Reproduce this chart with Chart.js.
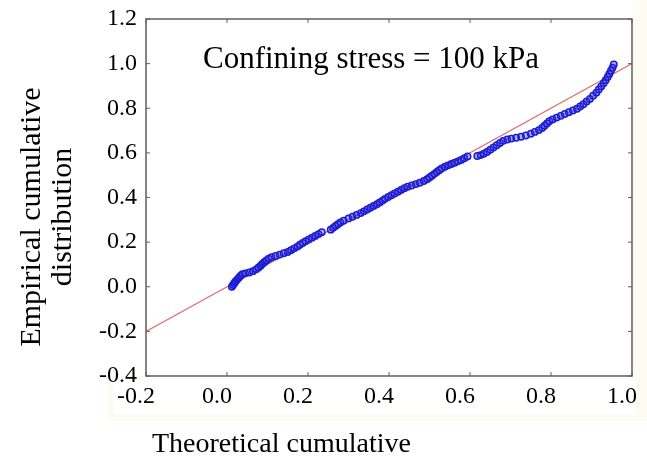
<!DOCTYPE html>
<html>
<head>
<meta charset="utf-8">
<script src="https://cdn.jsdelivr.net/npm/chart.js@4"></script>
<style>
  html, body { margin: 0; padding: 0; background: #ffffff; }
  #wrap { width: 647px; height: 473px; }
</style>
</head>
<body>
<div id="wrap"><canvas id="myChart" width="647" height="473"></canvas></div>
<script>
// theoretical cumulative (x) and empirical cumulative (y)
let theoretical = [
  0.012, 0.015, 0.018, 0.021, 0.025, 0.029, 0.033, 0.038, 0.045, 0.055,
  0.064, 0.072, 0.078, 0.083, 0.087, 0.092, 0.097, 0.103, 0.110, 0.120,
  0.130, 0.140, 0.150, 0.158, 0.166, 0.174, 0.180, 0.187, 0.194, 0.202,
  0.210, 0.218, 0.226, 0.234, 0.256, 0.262, 0.268, 0.274, 0.280, 0.288,
  0.300, 0.310, 0.320, 0.330, 0.338, 0.346, 0.354, 0.362, 0.370, 0.377,
  0.384, 0.390, 0.398, 0.406, 0.414, 0.422, 0.430, 0.438, 0.446, 0.456,
  0.466, 0.476, 0.486, 0.494, 0.500, 0.506, 0.512, 0.518, 0.524, 0.530,
  0.538, 0.546, 0.554, 0.562, 0.570, 0.578, 0.586, 0.594, 0.618, 0.626,
  0.634, 0.642, 0.650, 0.658, 0.666, 0.674, 0.682, 0.692, 0.702, 0.714,
  0.726, 0.738, 0.750, 0.760, 0.770, 0.778, 0.784, 0.790, 0.796, 0.804,
  0.814, 0.824, 0.834, 0.844, 0.854, 0.864, 0.872, 0.880, 0.888, 0.896,
  0.904, 0.912, 0.918, 0.924, 0.930, 0.935, 0.940, 0.944, 0.948, 0.952,
  0.955
];
let empirical = [
  0.000, 0.008, 0.016, 0.024, 0.032, 0.040, 0.048, 0.056, 0.060, 0.064,
  0.070, 0.078, 0.086, 0.094, 0.102, 0.110, 0.118, 0.126, 0.132, 0.138,
  0.144, 0.150, 0.156, 0.164, 0.172, 0.180, 0.188, 0.196, 0.204, 0.212,
  0.220, 0.228, 0.236, 0.244, 0.256, 0.264, 0.272, 0.280, 0.288, 0.296,
  0.306, 0.314, 0.322, 0.330, 0.338, 0.346, 0.354, 0.362, 0.370, 0.378,
  0.386, 0.394, 0.402, 0.410, 0.418, 0.426, 0.434, 0.442, 0.448, 0.454,
  0.460, 0.466, 0.474, 0.482, 0.490, 0.498, 0.506, 0.514, 0.522, 0.530,
  0.538, 0.544, 0.550, 0.556, 0.562, 0.568, 0.576, 0.584, 0.586, 0.590,
  0.596, 0.604, 0.614, 0.624, 0.634, 0.644, 0.654, 0.660, 0.664, 0.668,
  0.672, 0.678, 0.686, 0.694, 0.702, 0.712, 0.722, 0.732, 0.742, 0.750,
  0.758, 0.766, 0.774, 0.782, 0.790, 0.798, 0.808, 0.818, 0.830, 0.842,
  0.856, 0.870, 0.884, 0.898, 0.912, 0.926, 0.940, 0.954, 0.968, 0.982,
  0.996
];
// reference line y = x
let lineX = [-0.2, 1.0];
let lineY = [-0.2, 1.0];

let xTicks = [-0.2, 0.0, 0.2, 0.4, 0.6, 0.8, 1.0];
let yTicks = [-0.4, -0.2, 0.0, 0.2, 0.4, 0.6, 0.8, 1.0, 1.2];

let serif = "'Liberation Serif', 'Times New Roman', serif";

let points = theoretical.map((x, i) => ({ x: x, y: empirical[i] }));
let refLine = lineX.map((x, i) => ({ x: x, y: lineY[i] }));

function fmt(v) {
    if (Math.abs(v) < 1e-9) return "0.0";
    return v.toFixed(1);
}

// frame, inward ticks, titles and the note
const decor = {
    id: "decor",
    beforeDraw(chart) {
        const c = chart.ctx;
        const a = chart.chartArea;
        c.save();
        c.fillStyle = "#ffffff";
        c.fillRect(0, 0, chart.width, chart.height);
        // faint cream paper around the frame, as in the scan
        c.fillStyle = "#fefbf2";
        c.fillRect(a.right + 1, 0, chart.width - a.right, 420);
        c.fillRect(108, a.bottom + 2, chart.width - 108, 43);
        c.fillStyle = "#ffffff";
        c.fillRect(114, a.bottom + 4, a.right - 110, 34);
        c.restore();
    },
    afterDraw(chart) {
        const c = chart.ctx;
        const a = chart.chartArea;
        const xs = chart.scales.x, ys = chart.scales.y;
        c.save();
        c.strokeStyle = "#5e5e5e";
        c.lineWidth = 1.5;
        c.strokeRect(a.left, a.top, a.right - a.left, a.bottom - a.top);
        c.lineWidth = 1;
        c.beginPath();
        xTicks.forEach(v => {
            const p = xs.getPixelForValue(v);
            c.moveTo(p, a.bottom); c.lineTo(p, a.bottom - 4);
            c.moveTo(p, a.top); c.lineTo(p, a.top + 4);
        });
        yTicks.forEach(v => {
            const p = ys.getPixelForValue(v);
            c.moveTo(a.left, p); c.lineTo(a.left + 4, p);
            c.moveTo(a.right, p); c.lineTo(a.right - 4, p);
        });
        c.stroke();

        c.fillStyle = "#000000";
        c.textAlign = "left";
        c.textBaseline = "middle";
        c.font = "31px " + serif;
        c.fillText("Confining stress = 100 kPa", 203, 60);
        c.font = "28px " + serif;
        c.fillText("Theoretical cumulative", 152, 445);

        c.font = "30px " + serif;
        c.textAlign = "center";
        c.save();
        c.translate(32, 217);
        c.rotate(-Math.PI / 2);
        c.fillText("Empirical cumulative", 0, 0);
        c.restore();
        c.save();
        c.translate(63, 217);
        c.rotate(-Math.PI / 2);
        c.fillText("distribution", 0, 0);
        c.restore();
        c.restore();
    }
};

new Chart(document.getElementById("myChart"), {
    type: "scatter",
    data: {
        datasets: [
            {
                label: "Empirical",
                data: points,
                pointRadius: 3.2,
                pointBorderWidth: 1.5,
                pointBorderColor: "#1c1cd2",
                pointBackgroundColor: "rgba(50,50,230,0.35)",
                order: 1
            },
            {
                label: "Theoretical",
                type: "line",
                data: refLine,
                borderColor: "#dd6f74",
                borderWidth: 1.2,
                pointRadius: 0,
                fill: false,
                order: 2
            }
        ]
    },
    options: {
        responsive: false,
        animation: false,
        layout: { padding: { left: 86, top: 19, right: 15, bottom: 49 } },
        plugins: {
            legend: { display: false },
            tooltip: { enabled: false }
        },
        scales: {
            x: {
                type: "linear",
                min: -0.2,
                max: 1.0,
                afterBuildTicks: s => { s.ticks = xTicks.map(v => ({ value: v })); },
                afterFit: s => { s.height = 48; s.paddingLeft = 0; s.paddingRight = 0; },
                grid: { display: false, drawTicks: false },
                border: { display: false },
                ticks: {
                    padding: 6,
                    labelOffset: -10,
                    color: "#000000",
                    font: { family: serif, size: 24 },
                    callback: v => fmt(v)
                }
            },
            y: {
                type: "linear",
                min: -0.4,
                max: 1.2,
                afterBuildTicks: s => { s.ticks = yTicks.map(v => ({ value: v })); },
                afterFit: s => { s.width = 60; s.paddingTop = 0; s.paddingBottom = 0; },
                grid: { display: false, drawTicks: false },
                border: { display: false },
                ticks: {
                    padding: 9,
                    color: "#000000",
                    font: { family: serif, size: 24 },
                    callback: v => fmt(v)
                }
            }
        }
    },
    plugins: [decor]
});
</script>
</body>
</html>
